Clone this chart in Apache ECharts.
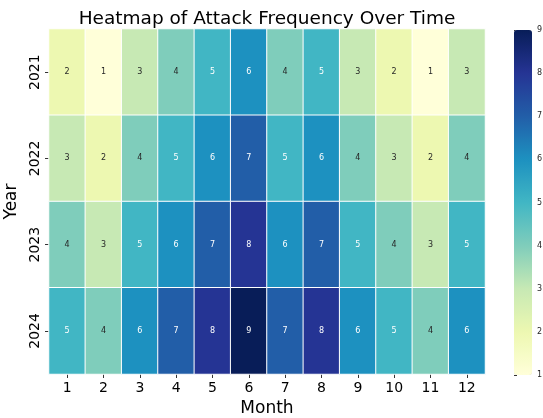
<!DOCTYPE html>
<html><head><meta charset="utf-8">
<script src="https://cdn.jsdelivr.net/npm/echarts@6/dist/echarts.min.js"></script>
<style>html,body{margin:0;padding:0;background:#fff}#c{width:543px;height:418px}</style>
</head><body><div id="c"></div>
<script>
const months = ['1','2','3','4','5','6','7','8','9','10','11','12'];
const years = ['2021','2022','2023','2024'];
const v2021 = [2,1,3,4,5,6,4,5,3,2,1,3];
const v2022 = [3,2,4,5,6,7,5,6,4,3,2,4];
const v2023 = [4,3,5,6,7,8,6,7,5,4,3,5];
const v2024 = [5,4,6,7,8,9,7,8,6,5,4,6];
const colorTicks = [1,2,3,4,5,6,7,8,9];
const rows = [v2021, v2022, v2023, v2024];
const ylgnbu = ['#ffffd9','#edf8b1','#c7e9b4','#7fcdbb','#41b6c4','#1d91c0','#225ea8','#253494','#081d58'];
const data = [];
rows.forEach((r, yi) => r.forEach((v, xi) => {
  data.push({value: [xi, yi, v], label: {color: v >= 5 ? '#ffffff' : '#262626'}});
}));
const font = 'DejaVu Sans';
const chart = echarts.init(document.getElementById('c'), null, {renderer: 'canvas'});
chart.setOption({
  animation: false,
  title: {text: 'Heatmap of Attack Frequency Over Time', left: 262, textAlign: 'center', top: 5,
    textStyle: {fontFamily: font, fontSize: 18.5, fontWeight: 'normal', color: '#000'}},
  grid: [
    {left: 49, right: 58, top: 29, bottom: 44, containLabel: false, outerBoundsMode: 'none'},
    {left: 514, width: 18, top: 30, bottom: 43, containLabel: false, outerBoundsMode: 'none'}
  ],
  xAxis: [
    {type: 'category', data: months, gridIndex: 0, name: 'Month', nameLocation: 'middle', nameGap: 24,
      nameTextStyle: {fontFamily: font, fontSize: 17, color: '#000'},
      axisLine: {show: false}, axisTick: {show: true, alignWithLabel: true, length: 4, lineStyle: {color: '#333'}},
      axisLabel: {fontFamily: font, fontSize: 14, color: '#000', margin: 7}, splitArea: {show: false}},
    {type: 'value', gridIndex: 1, show: false, min: 0, max: 1}
  ],
  yAxis: [
    {type: 'category', data: years, gridIndex: 0, inverse: true, name: 'Year', nameLocation: 'middle', nameGap: 27,
      nameTextStyle: {fontFamily: font, fontSize: 17, color: '#000'},
      axisLine: {show: false}, axisTick: {show: true, alignWithLabel: true, length: 4, lineStyle: {color: '#333'}},
      axisLabel: {fontFamily: font, fontSize: 14, color: '#000', rotate: 90, margin: 7}},
    {type: 'value', gridIndex: 1, position: 'right', min: 1, max: 9, interval: 1,
      axisLine: {show: false}, splitLine: {show: false},
      axisTick: {show: true, length: 3, lineStyle: {color: '#333'}},
      axisLabel: {fontFamily: font, fontSize: 8, color: '#262626', margin: 5}}
  ],
  visualMap: {
    type: 'continuous', min: 1, max: 9, seriesIndex: 0, calculable: false,
    orient: 'vertical', left: 514, top: 30, itemWidth: 18, itemHeight: 345, padding: 0,
    text: null, showLabel: false, inRange: {color: ylgnbu}
  },
  series: [{
    type: 'heatmap', xAxisIndex: 0, yAxisIndex: 0, data: data,
    label: {show: true, fontFamily: font, fontSize: 8, formatter: p => p.value[2]},
    itemStyle: {borderColor: '#ffffff', borderWidth: 1},
    emphasis: {disabled: true}
  }]
});
</script></body></html>
